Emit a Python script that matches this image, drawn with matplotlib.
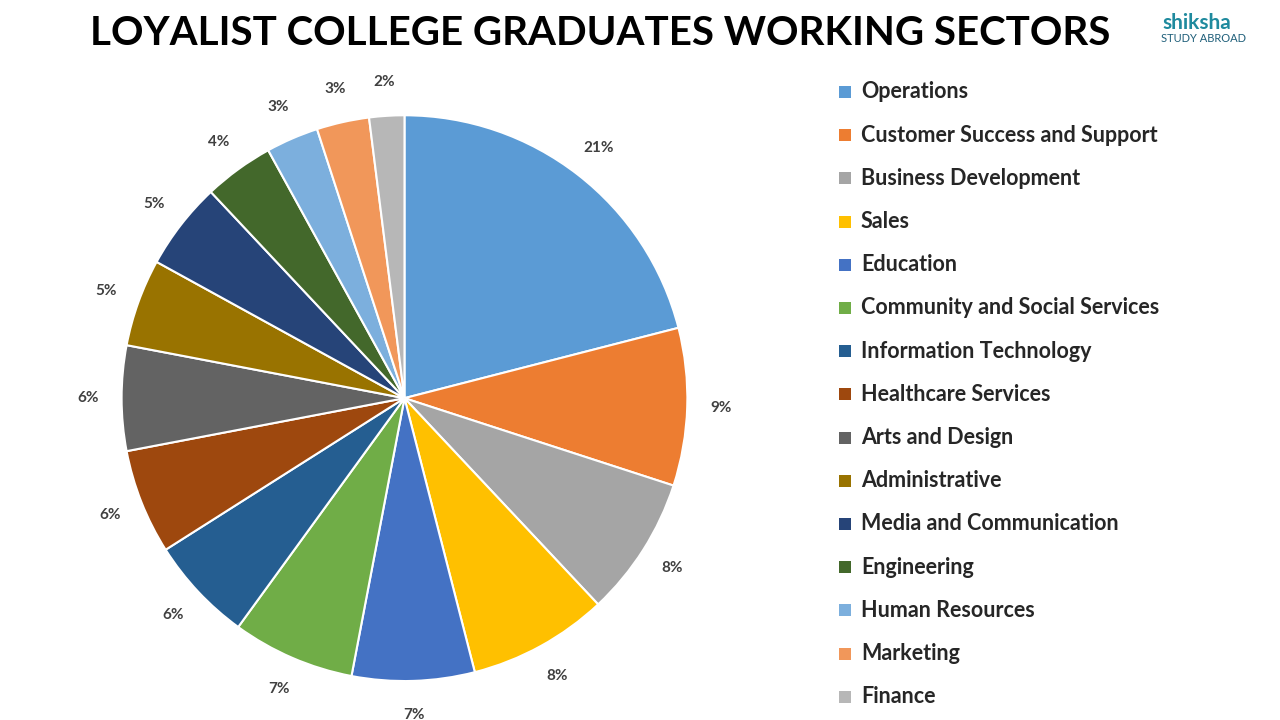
import matplotlib
matplotlib.use("Agg")
import matplotlib.pyplot as plt
from matplotlib.patches import Rectangle

categories = ["Operations", "Customer Success and Support", "Business Development", "Sales",
              "Education", "Community and Social Services", "Information Technology",
              "Healthcare Services", "Arts and Design", "Administrative",
              "Media and Communication", "Engineering", "Human Resources", "Marketing", "Finance"]
values = [21, 9, 8, 8, 7, 7, 6, 6, 6, 5, 5, 4, 3, 3, 2]
colors = ["#5B9BD5", "#ED7D31", "#A5A5A5", "#FFC000", "#4472C4", "#70AD47", "#255E91",
          "#9E480E", "#636363", "#997300", "#264478", "#43682B", "#7CAFDD", "#F1975A", "#B7B7B7"]

fig = plt.figure(figsize=(12.8, 7.2), dpi=100)
ax = fig.add_axes([0.095, 0.054, 0.442, 0.786])
wedges, texts = ax.pie(values, colors=colors, startangle=90, counterclock=False,
                       wedgeprops=dict(edgecolor="white", linewidth=1.5),
                       labels=[f"{v}%" for v in values], labeldistance=1.12,
                       textprops=dict(fontsize=11, fontweight="bold", color="#404040",
                                      family="Lato"))
for t in texts:
    t.set_ha("center"); t.set_va("center")
ax.set_xlim(-1, 1)
ax.set_ylim(-1, 1)
ax.set_aspect("equal")

fig.text(0.469, 0.953, "LOYALIST COLLEGE GRADUATES WORKING SECTORS", ha="center", va="center",
         fontsize=29, fontweight="bold", family="Lato", color="black")
fig.text(0.935, 0.968, "shiksha", ha="center", va="center", fontsize=15, fontweight="bold",
         family="Lato", color="#1F8A9E")
fig.text(0.94, 0.947, "STUDY ABROAD", ha="center", va="center", fontsize=8,
         family="Lato", color="#1F5F7A")

for i, (c, col) in enumerate(zip(categories, colors)):
    y = 92 + i * 43.2
    fig.patches.append(Rectangle((839 / 1280, 1 - (y + 6) / 720), 12 / 1280, 12 / 720,
                                 transform=fig.transFigure, facecolor=col, edgecolor="none"))
    fig.text(861 / 1280, 1 - y / 720, c, ha="left", va="center", fontsize=15.5,
             fontweight="bold", family="Lato", color="#262626")

fig.savefig("out.png", dpi=100, facecolor="white")
